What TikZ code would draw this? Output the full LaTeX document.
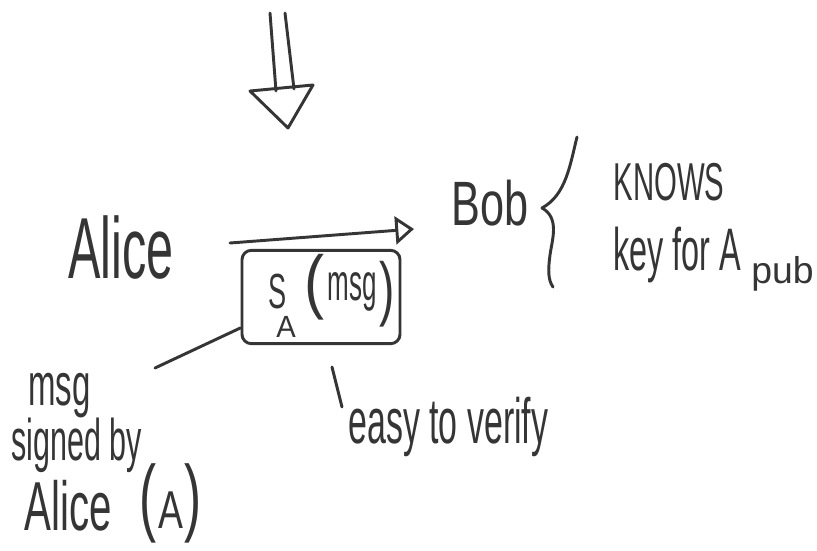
\documentclass[tikz,border=0pt]{standalone}
\usepackage{fontspec}
\setmainfont{Liberation Sans}
\usetikzlibrary{arrows.meta}
\definecolor{ink}{HTML}{353535}
\newcommand\hwtext[3]{\fontsize{#1}{#1}\selectfont\scalebox{#2}[1]{#3}}
\begin{document}
\begin{tikzpicture}[x=0.75pt,y=-0.75pt,line width=2.2pt,line cap=round,line join=round,
  draw=ink,text=ink,
  lbl/.style={inner sep=0pt,anchor=base west,text=ink},
  arr/.style={draw=ink,-{Triangle[open,length=14pt,width=21pt,line width=2.2pt]}}]
\useasboundingbox (0,0) rectangle (817,550);
\fill[white] (0,0) rectangle (817,550);

% top double arrow
\draw (270,13) -- (276,91);
\draw (285,13) -- (294,89);
\draw (250,91) -- (313,85) -- (288,128) -- cycle;

% Alice and Bob
\node[lbl] (alice) at (67,278) {\hwtext{65}{0.56}{Alice}};
\node[lbl] (bob) at (450,225) {\hwtext{47}{0.69}{Bob}};
\coordinate (a1) at (230,243);
\coordinate (b1) at (414,229);
\draw[arr] (a1) -- (b1);

% brace
\draw (577,137) .. controls (570,165) and (566,195) .. (542,208)
      .. controls (560,218) and (552,240) .. (550,255)
      .. controls (548,270) and (548,280) .. (553,287);

% Bob knows
\node[lbl] (knows) at (612,200) {\hwtext{40}{0.55}{KNOWS}};
\node[lbl] (keyfor) at (612,270) {\hwtext{45}{0.54}{key for A}};
\node[lbl] (pub) at (750,283) {\hwtext{28}{1.0}{pub}};

% signature box
\node[draw=ink,rounded corners=7pt,minimum width=118.5pt,minimum height=70pt,inner sep=0pt] (sig) at (321,297) {};
\node[lbl] (sS) at (267,308) {\hwtext{37}{0.55}{S}};
\node[lbl] (sA) at (275,337) {\hwtext{23}{0.95}{A}};
\node[lbl] (lp) at (303,305) {\hwtext{53}{0.85}{(}};
\node[lbl] (smsg) at (326,300) {\hwtext{39}{0.5}{msg}};
\node[lbl] (rp) at (378,312) {\hwtext{53}{0.65}{)}};

% msg signed by Alice
\coordinate (m1) at (155,368);
\draw (sig.201) -- (m1);
\node[lbl] (msg2) at (27,405) {\hwtext{45}{0.55}{msg}};
\node[lbl] (signed) at (10,460) {\hwtext{44}{0.52}{signed by}};
\node[lbl] (alice2) at (23,530) {\hwtext{52}{0.58}{Alice}};
\node[lbl] (lp2) at (138,525) {\hwtext{64}{0.6}{(}};
\node[lbl] (A2) at (157,528) {\hwtext{40}{0.7}{A}};
\node[lbl] (rp2) at (183,525) {\hwtext{64}{0.6}{)}};

% easy to verify
\coordinate (e1) at (332,367);
\coordinate (e2) at (342,407);
\draw (e1) -- (e2);
\node[lbl] (easy) at (347,443) {\hwtext{48}{0.53}{easy to verify}};
\end{tikzpicture}
\end{document}
